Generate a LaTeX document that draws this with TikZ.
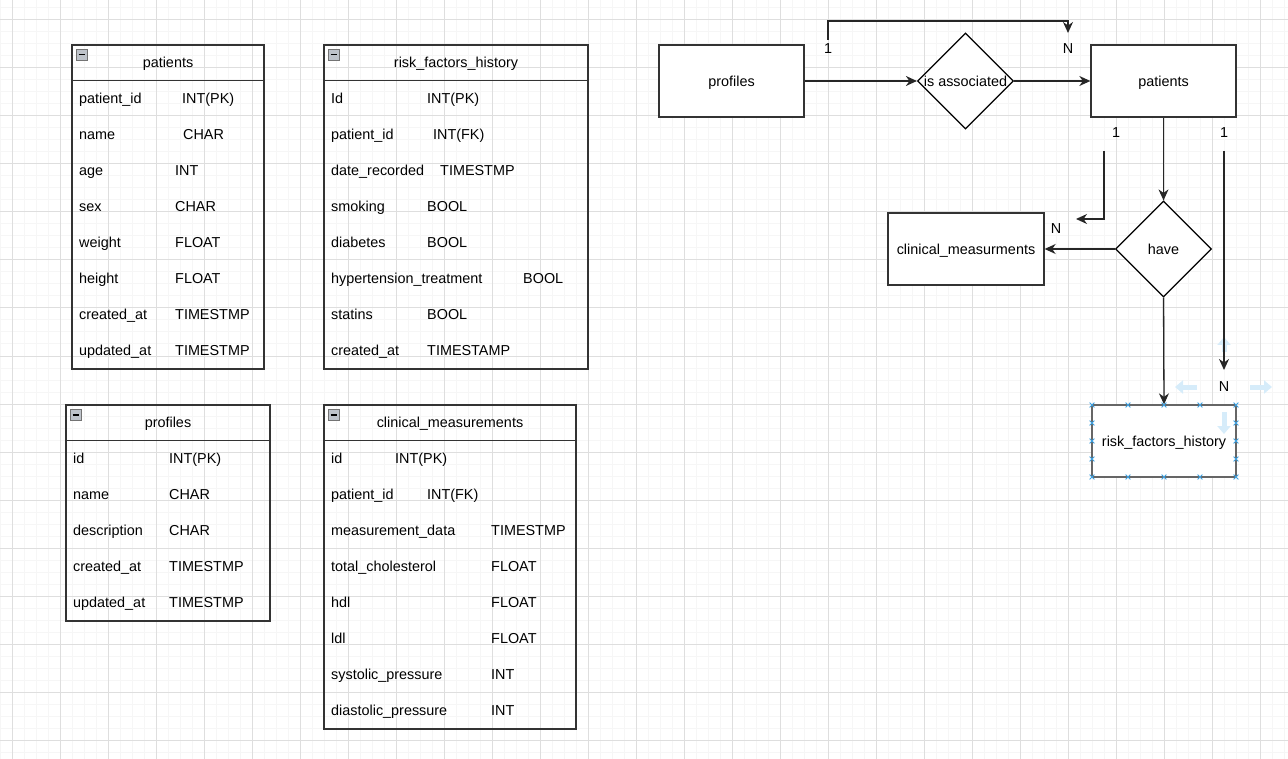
\documentclass[tikz,border=0pt]{standalone}
\usepackage{fontspec}
\setmainfont{Liberation Sans}
\usepackage{tikz}
\usetikzlibrary{arrows.meta,shapes.geometric,shapes.misc}

\definecolor{gridmaj}{RGB}{222,222,222}
\definecolor{gridmin}{RGB}{246,246,246}
\definecolor{edgegray}{RGB}{51,51,51}
\definecolor{minusfill}{RGB}{190,195,202}
\definecolor{selblue}{RGB}{60,160,225}
\definecolor{hintblue}{RGB}{214,236,250}

\begin{document}
\begin{tikzpicture}[x=1pt,y=-1pt,font=\fontsize{14.4}{17}\selectfont]
  \tikzstyle{txt}=[inner sep=0pt,text height=10.3pt,text depth=0pt]
  \tikzstyle{fieldtxt}=[txt,anchor=west]
  \tikzstyle{tblframe}=[draw=edgegray,line width=1.4pt,inner sep=0pt]
  \tikzstyle{minusbox}=[draw=gray!90!black,fill=minusfill,minimum size=11pt,inner sep=0pt,line width=0.9pt]
  \tikzstyle{entity}=[txt,draw=edgegray,fill=white,line width=1.3pt,minimum height=72pt]
  \tikzstyle{relation}=[txt,shape=diamond,draw=black,fill=white,line width=1.2pt,minimum width=96pt,minimum height=96pt]
  \tikzstyle{conn}=[draw=black!85,line width=1.3pt,-{Stealth[length=11pt,width=10pt,inset=3.5pt]}]
  \tikzstyle{hint}=[hintblue,line width=5pt,-{Triangle[length=8pt,width=13pt]}]
  \tikzstyle{selhandle}=[cross out,draw=selblue,minimum size=4pt,inner sep=0pt,line width=0.8pt]
  \useasboundingbox (0,0) rectangle (1288,759);

  % grid
  \foreach \x in {0,12,...,1284} \draw[gridmin,line width=1pt] (\x,0) -- (\x,759);
  \foreach \y in {8,20,...,752} \draw[gridmin,line width=1pt] (0,\y) -- (1288,\y);
  \foreach \x in {12,60,...,1284} \draw[gridmaj,line width=1pt] (\x,0) -- (\x,759);
  \foreach \y in {20,68,...,740} \draw[gridmaj,line width=1pt] (0,\y) -- (1288,\y);

  % patients table
  \path (168,207) node[tblframe,minimum width=192pt,minimum height=324pt] (tPat) {};
  \draw[tblframe] ([yshift=-36pt]tPat.north west) -- ([yshift=-36pt]tPat.north east);
  \path ([xshift=10.5pt,yshift=-10.5pt]tPat.north west) node[minusbox] (tPatMin) {\rule{6.5pt}{1.4pt}};
  \path (168,62) node[txt] (tPatHd) {patients};
  \foreach \nm/\ty/\tx [count=\i] in {patient\_id/INT(PK)/182, name/CHAR/183, age/INT/175, sex/CHAR/175,
      weight/FLOAT/175, height/FLOAT/175, created\_at/TIMESTMP/175, updated\_at/TIMESTMP/175}
  {
    \path (79,{62+36*\i}) node[fieldtxt] (patN\i) {\nm};
    \path (\tx,{62+36*\i}) node[fieldtxt] (patT\i) {\ty};
  }

  % risk_factors_history table
  \path (456,207) node[tblframe,minimum width=264pt,minimum height=324pt] (tRisk) {};
  \draw[tblframe] ([yshift=-36pt]tRisk.north west) -- ([yshift=-36pt]tRisk.north east);
  \path ([xshift=10.5pt,yshift=-10.5pt]tRisk.north west) node[minusbox] (tRiskMin) {\rule{6.5pt}{1.4pt}};
  \path (456,62) node[txt] (tRiskHd) {risk\_factors\_history};
  \foreach \nm/\ty/\tx [count=\i] in {Id/INT(PK)/427, patient\_id/INT(FK)/433, date\_recorded/TIMESTMP/440,
      smoking/BOOL/427, diabetes/BOOL/427, hypertension\_treatment/BOOL/523, statins/BOOL/427,
      created\_at/TIMESTAMP/427}
  {
    \path (331,{62+36*\i}) node[fieldtxt] (riskN\i) {\nm};
    \path (\tx,{62+36*\i}) node[fieldtxt] (riskT\i) {\ty};
  }

  % profiles table
  \path (168,513) node[tblframe,minimum width=204pt,minimum height=216pt] (tProf) {};
  \draw[tblframe] ([yshift=-36pt]tProf.north west) -- ([yshift=-36pt]tProf.north east);
  \path ([xshift=10.5pt,yshift=-10.5pt]tProf.north west) node[minusbox] (tProfMin) {\rule{6.5pt}{1.4pt}};
  \path (168,422) node[txt] (tProfHd) {profiles};
  \foreach \nm/\ty [count=\i] in {id/INT(PK), name/CHAR, description/CHAR, created\_at/TIMESTMP,
      updated\_at/TIMESTMP}
  {
    \path (73,{422+36*\i}) node[fieldtxt] (profN\i) {\nm};
    \path (169,{422+36*\i}) node[fieldtxt] (profT\i) {\ty};
  }

  % clinical_measurements table
  \path (450,567) node[tblframe,minimum width=252pt,minimum height=324pt] (tClin) {};
  \draw[tblframe] ([yshift=-36pt]tClin.north west) -- ([yshift=-36pt]tClin.north east);
  \path ([xshift=10.5pt,yshift=-10.5pt]tClin.north west) node[minusbox] (tClinMin) {\rule{6.5pt}{1.4pt}};
  \path (450,422) node[txt] (tClinHd) {clinical\_measurements};
  \foreach \nm/\ty/\tx [count=\i] in {id/INT(PK)/395, patient\_id/INT(FK)/427, measurement\_data/TIMESTMP/491,
      total\_cholesterol/FLOAT/491, hdl/FLOAT/491, ldl/FLOAT/491, systolic\_pressure/INT/491,
      diastolic\_pressure/INT/491}
  {
    \path (331,{422+36*\i}) node[fieldtxt] (clinN\i) {\nm};
    \path (\tx,{422+36*\i}) node[fieldtxt] (clinT\i) {\ty};
  }

  % ER diagram
  \path (731.5,81) node[entity,minimum width=145pt] (profiles) {profiles};
  \path (965.5,81) node[relation] (assoc) {\makebox[0pt]{is associated}};
  \path (1163.5,81) node[entity,minimum width=145pt] (patients) {patients};
  \path (1163.5,249) node[relation] (have) {\makebox[0pt]{have}};
  \path (966,249) node[entity,minimum width=156pt] (clinical) {clinical\_measurments};
  \path (1164,441) node[entity,minimum width=144pt,draw=gray!80!black] (risk) {risk\_factors\_history};

  % hover hints
  \draw[hint] (1224,352) -- (1224,337);
  \draw[hint] (1197,387) -- (1175,387);
  \draw[hint] (1250,387) -- (1272,387);
  \draw[hint] (1224,412) -- (1224,434);

  \coordinate (a1) at (828,40);
  \coordinate (a2) at (1068,33);
  \coordinate (b1) at (1104,151);
  \coordinate (b2) at (1076,219);
  \coordinate (c1) at (1224,151);
  \coordinate (c2) at (1224,370);
  \draw[conn] (profiles.east) -- (assoc.west);
  \draw[conn] (assoc.east) -- (patients.west);
  \draw[conn] (a1) -- ++(0,-19) -| (a2);
  \draw[conn] (patients.south) -- (have.north);
  \draw[conn] (have.west) -- (clinical.east);
  \draw[conn] (b1) |- (b2);
  \draw[conn] (c1) -- (c2);
  \draw[conn] (have.south) -- (risk.north);

  \path (828,48) node[txt] (l1a) {1};
  \path (1068,48) node[txt] (lNa) {N};
  \path (1116,132) node[txt] (l1b) {1};
  \path (1056,228) node[txt] (lNb) {N};
  \path (1224,132) node[txt] (l1c) {1};
  \path (1224,386) node[txt] (lNc) {N};

  % selection handles
  \foreach \x in {1092,1128,1164,1200,1236} {
    \path (\x,405) node[selhandle] (hT\x) {};
    \path (\x,477) node[selhandle] (hB\x) {};
  }
  \foreach \y in {423,441,459} {
    \path (1092,\y) node[selhandle] (hL\y) {};
    \path (1236,\y) node[selhandle] (hR\y) {};
  }
\end{tikzpicture}
\end{document}
